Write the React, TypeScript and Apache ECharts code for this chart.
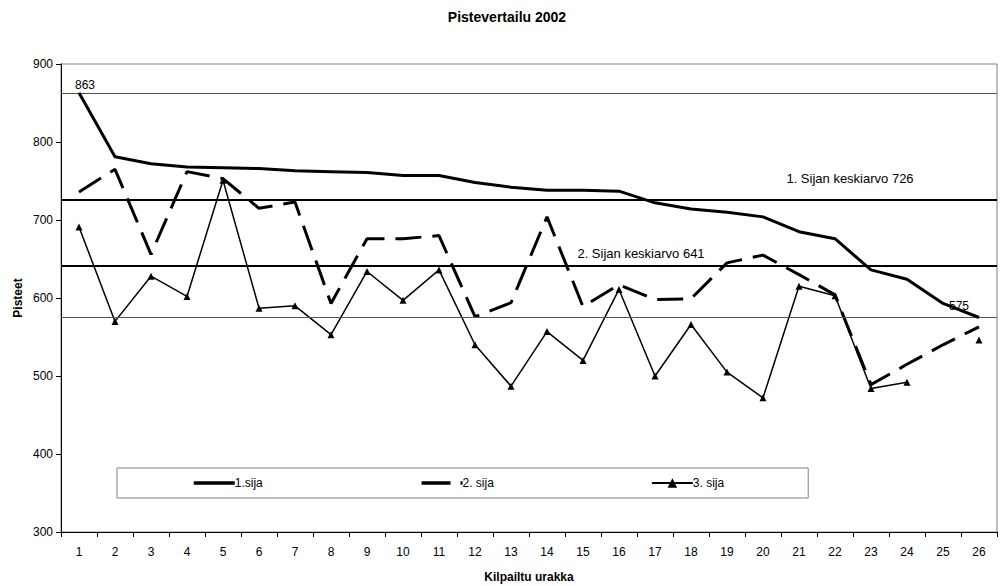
import React, { useEffect, useRef } from "react";
import * as echarts from "echarts";

const categories = ["1","2","3","4","5","6","7","8","9","10","11","12","13","14","15","16","17","18","19","20","21","22","23","24","25","26"];
const sija1 = [863,781,772,768,767,766,763,762,761,757,757,748,742,738,738,737,722,714,710,704,685,676,636,624,593,575];
const sija2 = [736,765,656,762,753,715,723,593,676,676,680,576,594,704,589,617,598,599,645,655,630,604,489,515,540,563];
const sija3: (number | null)[] = [691,570,628,602,751,587,590,553,634,597,636,540,487,557,520,611,500,566,505,472,615,603,484,492,null,546];
const averages = [726, 641];
const extremes = [863, 575];
const seriesNames = ["1.sija", "2. sija", "3. sija"];
const titleText = "Pistevertailu 2002";
const xName = "Kilpailtu urakka";
const yName = "Pisteet";
const avgLabels = ["1. Sijan keskiarvo 726", "2. Sijan keskiarvo 641"];

const FONT = "'Liberation Sans', Arial, sans-serif";

export default function App() {
  const ref = useRef<HTMLDivElement>(null);
  useEffect(() => {
    if (!ref.current) return;
    const chart = echarts.init(ref.current, undefined, { renderer: "svg" });
    const lbl = (offset: number[]) => ({
      show: true,
      position: "top",
      offset,
      formatter: "{c}",
      color: "#000",
      fontSize: 12,
      fontFamily: FONT,
    });
    const s1Data = sija1.map((v, i) => {
      if (i === 0) return { value: v, label: lbl([6, 3]) };
      if (i === sija1.length - 1) return { value: v, label: lbl([-20, -1]) };
      return v;
    });
    const hiddenIcon = { color: "rgba(0,0,0,0)", borderWidth: 0, opacity: 0 };
    chart.setOption({
      animation: false,
      backgroundColor: "#ffffff",
      textStyle: { fontFamily: FONT, color: "#000" },
      grid: {
        left: 61,
        right: 8,
        top: 64,
        bottom: 54,
        show: true,
        borderColor: "#808080",
        borderWidth: 1,
        backgroundColor: "transparent",
      },
      legend: {
        left: 117,
        top: 468,
        orient: "horizontal",
        itemWidth: 41,
        itemHeight: 12,
        itemGap: 157,
        padding: [9, 84, 9, 75],
        borderColor: "#808080",
        borderWidth: 1,
        textStyle: { fontSize: 12, fontFamily: FONT, color: "#000", padding: [0, 0, 0, -5] },
        data: [
          { name: seriesNames[0], itemStyle: hiddenIcon, lineStyle: { width: 3.5, color: "#000" } },
          { name: seriesNames[1], itemStyle: hiddenIcon, lineStyle: { width: 3.5, color: "#000", type: [29, 10] } },
          { name: seriesNames[2], lineStyle: { width: 2, color: "#000" } },
        ],
      },
      xAxis: {
        type: "category",
        data: categories,
        boundaryGap: true,
        axisLine: { lineStyle: { color: "#000", width: 1 } },
        axisTick: { show: true, length: 5, lineStyle: { color: "#000" } },
        axisLabel: { color: "#000", fontSize: 12, fontFamily: FONT, margin: 14, interval: 0 },
        splitLine: { show: false },
      },
      yAxis: {
        type: "value",
        min: 300,
        max: 900,
        interval: 100,
        axisLine: { show: true, lineStyle: { color: "#000", width: 1 } },
        axisTick: { show: true, length: 5, lineStyle: { color: "#000" } },
        axisLabel: { color: "#000", fontSize: 12, fontFamily: FONT, margin: 8 },
        splitLine: { show: false },
      },
      graphic: [
        { type: "text", x: 507, y: 17, style: { text: titleText, fontSize: 14, fontWeight: "bold", fontFamily: FONT, fill: "#000", align: "center", verticalAlign: "middle" } },
        { type: "text", x: 529, y: 577, style: { text: xName, fontSize: 12, fontWeight: "bold", fontFamily: FONT, fill: "#000", align: "center", verticalAlign: "middle" } },
        { type: "text", x: 18, y: 298, rotation: Math.PI / 2, style: { text: yName, fontSize: 12, fontWeight: "bold", fontFamily: FONT, fill: "#000", align: "center", verticalAlign: "middle" } },
        { type: "text", x: 850, y: 178, style: { text: avgLabels[0], fontSize: 13, fontFamily: FONT, fill: "#000", align: "center", verticalAlign: "middle" } },
        { type: "text", x: 641, y: 253, style: { text: avgLabels[1], fontSize: 13, fontFamily: FONT, fill: "#000", align: "center", verticalAlign: "middle" } },
      ],
      series: [
        {
          name: seriesNames[0],
          type: "line",
          data: s1Data,
          symbol: "circle",
          symbolSize: 0,
          showSymbol: true,
          lineStyle: { color: "#000", width: 3 },
          itemStyle: { color: "#000" },
          z: 5,
          markLine: {
            silent: true,
            symbol: "none",
            label: { show: false },
            data: [
              { yAxis: extremes[0], lineStyle: { color: "#555", width: 1, type: "solid" } },
              { yAxis: averages[0], lineStyle: { color: "#000", width: 2, type: "solid" } },
              { yAxis: averages[1], lineStyle: { color: "#000", width: 2, type: "solid" } },
              { yAxis: extremes[1], lineStyle: { color: "#555", width: 1, type: "solid" } },
            ],
          },
        },
        {
          name: seriesNames[1],
          type: "line",
          data: sija2,
          symbol: "none",
          lineStyle: { color: "#000", width: 3, type: [26, 11] },
          itemStyle: { color: "#000" },
          z: 4,
        },
        {
          name: seriesNames[2],
          type: "line",
          data: sija3,
          connectNulls: false,
          symbol: "triangle",
          symbolSize: 7,
          showAllSymbol: true,
          lineStyle: { color: "#000", width: 1.5 },
          itemStyle: { color: "#000" },
          z: 3,
        },
      ],
    });
    return () => chart.dispose();
  }, []);
  return <div ref={ref} style={{ position: "fixed", left: 0, top: 0, width: 1005, height: 586 }} />;
}
